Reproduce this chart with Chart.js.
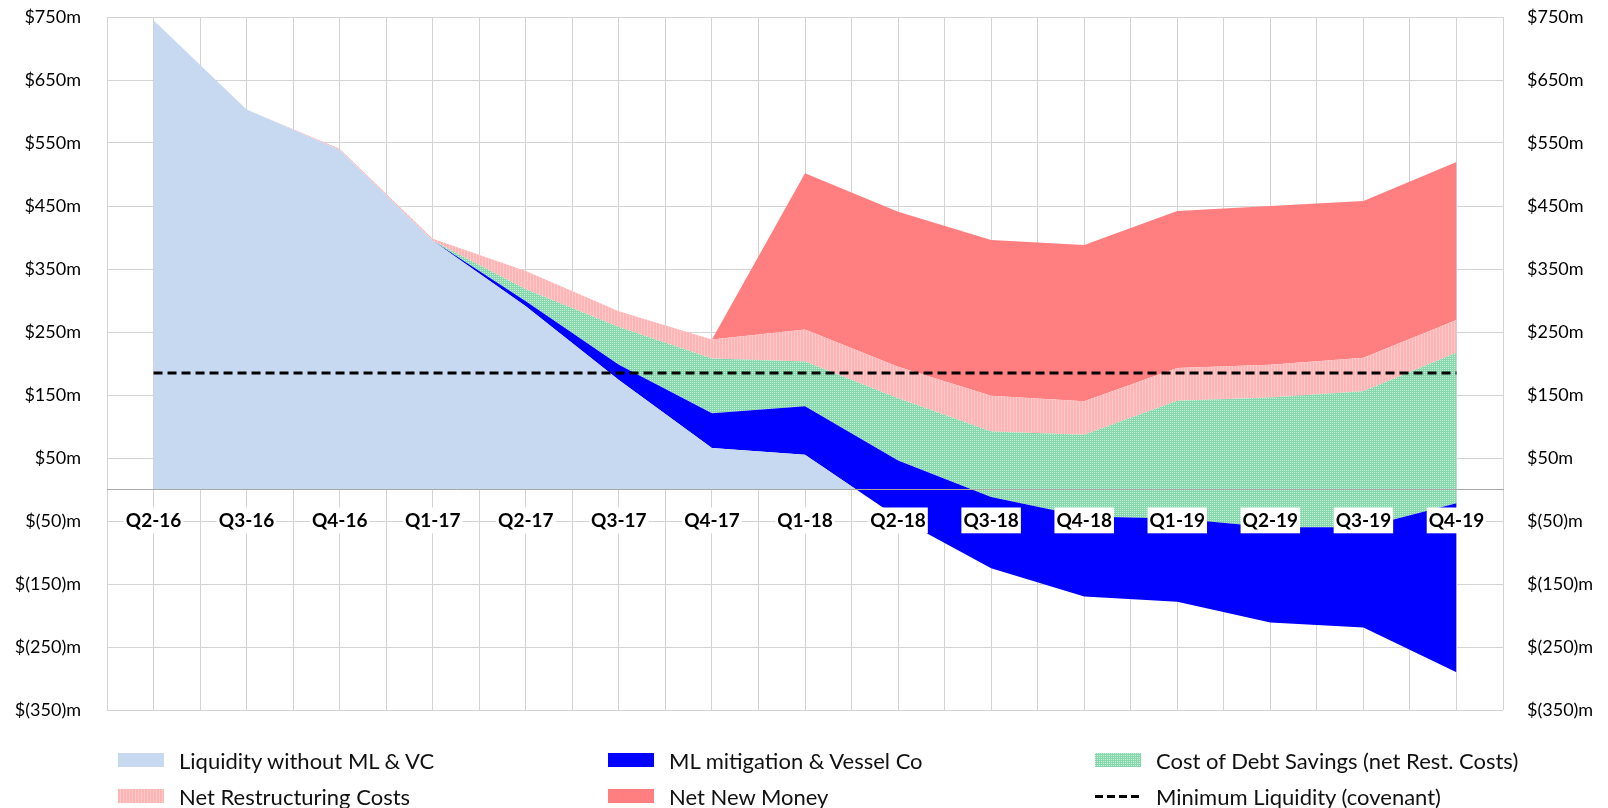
<!DOCTYPE html>
<html>
<head>
<meta charset="utf-8">
<title>Liquidity bridge</title>
<script src="https://cdn.jsdelivr.net/npm/chart.js@4.4.1/dist/chart.umd.min.js"></script>
<style>
  body { margin: 0; background: #fff; }
  #wrap { position: relative; width: 1608px; height: 808px; }
  #legend { position: absolute; left: 0; top: 0; width: 1608px; height: 808px; pointer-events: none;
            font-family: Lato, "Open Sans", sans-serif; font-size: 22px; color: #111; }
  .item { position: absolute; height: 26px; display: flex; align-items: center; white-space: nowrap; }
  .item canvas { margin-right: 15px; }
</style>
</head>
<body>
<div id="wrap">
  <canvas id="liquidityChart" width="1608" height="808"></canvas>
  <div id="legend"></div>
</div>
<script>
// quarters on the x axis
const quarters = ['Q2-16', 'Q3-16', 'Q4-16', 'Q1-17', 'Q2-17', 'Q3-17', 'Q4-17', 'Q1-18',
                  'Q2-18', 'Q3-18', 'Q4-18', 'Q1-19', 'Q2-19', 'Q3-19', 'Q4-19'];

// stacked layers, $m
const liquidity     = [745, 603, 539, 395, 291, 174, 66, 55, -45, -125, -170, -178, -211, -219, -290];
const mlMitigation  = [0, 0, 0, 0, 8, 24, 55, 77, 91, 113, 127, 132, 151, 159, 268];
const debtSavings   = [0, 0, 0, 0, 19, 60, 87, 71, 99, 104, 130, 187, 206, 216, 239];
const restructuring = [0, 0, 2, 3, 29, 25, 30, 51, 50, 57, 53, 52, 52, 53, 52];
const newMoney      = [0, 0, 0, 0, 0, 0, 0, 248, 246, 247, 248, 249, 252, 249, 251];
const minLiquidity  = [185, 185, 185, 185, 185, 185, 185, 185, 185, 185, 185, 185, 185, 185, 185];

// y axis range / tick step
const yMin = -350;
const yMax = 750;
const yStep = 100;

function money(v) {
    return v < 0 ? '$(' + (-v) + ')m' : '$' + v + 'm';
}

// small textures for the hatched layers
function makeTile(w, h, draw) {
    const c = document.createElement('canvas');
    c.width = w;
    c.height = h;
    draw(c.getContext('2d'));
    return c;
}
const greenTile = makeTile(2, 2, function(g) {
    g.fillStyle = '#86d7ab';
    g.fillRect(0, 0, 2, 2);
    g.fillStyle = '#c6efd8';
    g.fillRect(0, 0, 1, 1);
});
const pinkTile = makeTile(3, 1, function(g) {
    g.fillStyle = '#ffb4b5';
    g.fillRect(0, 0, 3, 1);
    g.fillStyle = '#ffc9c9';
    g.fillRect(2, 0, 1, 1);
});

const ctx = document.getElementById('liquidityChart').getContext('2d');
const greenFill = ctx.createPattern(greenTile, 'repeat');
const pinkFill = ctx.createPattern(pinkTile, 'repeat');

function area(label, data, color, fill) {
    return {
        label: label,
        data: data,
        xAxisID: 'x',
        yAxisID: 'y',
        stack: 'liquidity',
        backgroundColor: color,
        borderColor: 'rgba(0,0,0,0)',
        borderWidth: 0,
        pointRadius: 0,
        tension: 0,
        fill: fill
    };
}

// keep the plot box where it is in the picture
function fixWidth(w) {
    return function(scale) {
        scale.width = w;
        scale.paddingTop = 0;
        scale.paddingBottom = 0;
    };
}
function flatAxis(scale) {
    scale.height = 0;
    scale.paddingLeft = 0;
    scale.paddingRight = 0;
}

const gridColor = '#d3d3d3';
const tickFont = { family: 'Lato', size: 18 };

const chart = new Chart(ctx, {
    type: 'line',
    data: {
        labels: quarters,
        datasets: [
            area('Liquidity without ML & VC', liquidity, '#c6d9f1',
                 { target: 'origin', above: '#c6d9f1', below: 'rgba(0,0,0,0)' }),
            area('ML mitigation & Vessel Co', mlMitigation, '#0000ff', '-1'),
            area('Cost of Debt Savings (net Rest. Costs)', debtSavings, greenFill, '-1'),
            area('Net Restructuring Costs', restructuring, pinkFill, '-1'),
            area('Net New Money', newMoney, '#ff7f80', '-1'),
            {
                label: 'Minimum Liquidity (covenant)',
                data: minLiquidity,
                xAxisID: 'x',
                yAxisID: 'y',
                stack: 'covenant',
                order: -1,
                borderColor: '#000',
                borderWidth: 3,
                borderDash: [9, 5],
                pointRadius: 0,
                fill: false
            }
        ]
    },
    options: {
        responsive: false,
        animation: false,
        devicePixelRatio: 1,
        layout: { padding: { left: 10, right: 10, top: 17, bottom: 98 } },
        plugins: {
            legend: { display: false },
            tooltip: { enabled: false }
        },
        scales: {
            x: {
                type: 'category',
                offset: true,
                position: 'bottom',
                grid: { offset: false, color: gridColor, drawTicks: false },
                border: { display: false },
                ticks: { display: false },
                afterFit: flatAxis
            },
            xGrid: {
                type: 'category',
                offset: true,
                position: 'bottom',
                grid: { offset: true, color: gridColor, drawTicks: false },
                border: { display: false },
                ticks: { display: false },
                afterFit: flatAxis
            },
            xLabels: {
                type: 'category',
                offset: true,
                position: { y: 0 },
                grid: { display: false, drawTicks: false },
                // zero line and quarter labels sit on top of the areas
                border: { display: true, color: '#a8a8a8', z: 1 },
                ticks: {
                    z: 1,
                    autoSkip: false,
                    maxRotation: 0,
                    padding: 20,
                    color: '#000',
                    font: { family: 'Lato', size: 19, weight: 'bold' },
                    showLabelBackdrop: true,
                    backdropColor: '#fff',
                    backdropPadding: { top: 2, bottom: 1, left: 2, right: 2 }
                },
                afterFit: flatAxis
            },
            y: {
                type: 'linear',
                position: 'left',
                stacked: 'single',
                min: yMin,
                max: yMax,
                grid: { color: gridColor, drawTicks: false },
                border: { display: false },
                ticks: { stepSize: yStep, padding: 26, color: '#000', font: tickFont, callback: money },
                afterFit: fixWidth(97)
            },
            y2: {
                type: 'linear',
                position: 'right',
                min: yMin,
                max: yMax,
                grid: { display: false, drawTicks: false },
                border: { display: false },
                ticks: { stepSize: yStep, padding: 24, color: '#000', font: tickFont, callback: money },
                afterFit: fixWidth(95)
            }
        }
    }
});

// legend: three columns, two rows, built from the datasets
const legendSlots = [[118, 747], [608, 747], [1095, 747], [118, 783], [608, 783], [1095, 783]];
const swatchTiles = [null, null, greenTile, pinkTile, null, null];
const legendBox = document.getElementById('legend');
chart.data.datasets.forEach(function(ds, i) {
    const item = document.createElement('div');
    item.className = 'item';
    item.style.left = legendSlots[i][0] + 'px';
    item.style.top = legendSlots[i][1] + 'px';
    const sw = document.createElement('canvas');
    sw.width = 46;
    sw.height = 14;
    const g = sw.getContext('2d');
    if (ds.fill === false) {
        g.strokeStyle = ds.borderColor;
        g.lineWidth = 3;
        g.setLineDash([8, 4]);
        g.beginPath();
        g.moveTo(0, 7.5);
        g.lineTo(46, 7.5);
        g.stroke();
    } else {
        g.fillStyle = swatchTiles[i] ? g.createPattern(swatchTiles[i], 'repeat') : ds.backgroundColor;
        g.fillRect(0, 0, 46, 14);
    }
    item.appendChild(sw);
    const txt = document.createElement('span');
    txt.textContent = ds.label;
    item.appendChild(txt);
    legendBox.appendChild(item);
});
</script>
</body>
</html>
